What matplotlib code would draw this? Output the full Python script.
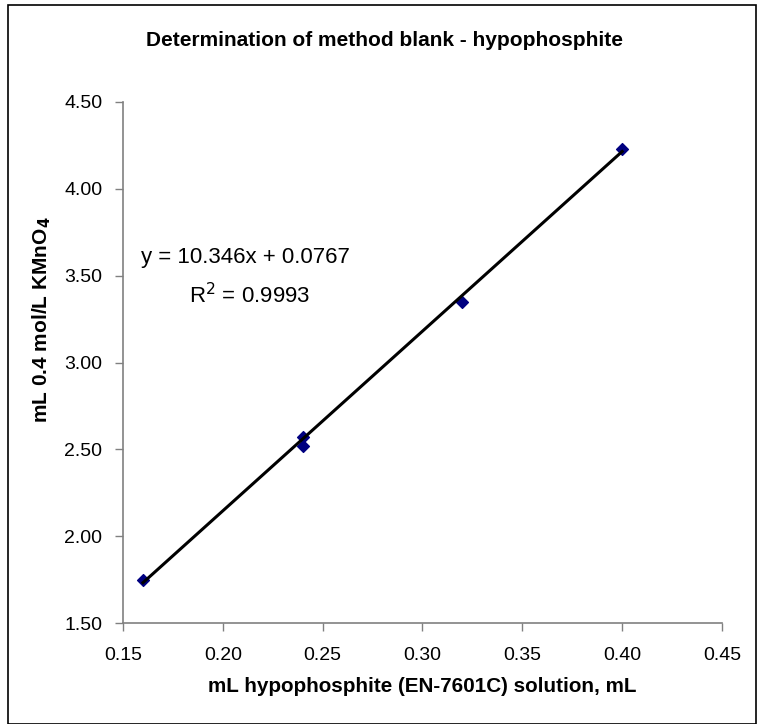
import matplotlib.pyplot as plt
import numpy as np
from matplotlib.patches import Rectangle

plt.rcParams["font.family"] = ["Liberation Sans", "DejaVu Sans"]

# measured volumes
hypo_ml = [0.16, 0.24, 0.24, 0.32, 0.40]
kmno4_ml = [1.75, 2.57, 2.52, 3.35, 4.23]

slope = 10.346
intercept = 0.0767
r_squared = 0.9993

x_ticks = [0.15, 0.20, 0.25, 0.30, 0.35, 0.40, 0.45]
y_ticks = [1.50, 2.00, 2.50, 3.00, 3.50, 4.00, 4.50]

W, H = 757, 724
fig = plt.figure(figsize=(W / 100, H / 100), dpi=100)
ax = fig.add_axes([123 / W, 1 - 623 / H, (722 - 123) / W, (623 - 102) / H])

# outer chart border
fig.patches.append(Rectangle((8 / W, 0.5 / H), (W - 9) / W, 1 - 5 / H,
                             transform=fig.transFigure, fill=False,
                             edgecolor="black", linewidth=1.2))

ax.scatter(hypo_ml, kmno4_ml, marker="D", s=36, color="#000080", zorder=3)

x_fit = np.array([min(hypo_ml), max(hypo_ml)])
ax.plot(x_fit, slope * x_fit + intercept, color="black", linewidth=2.2, zorder=4)

ax.set_xlim(0.15, 0.45)
ax.set_ylim(1.5, 4.5)
ax.set_xticks(x_ticks)
ax.set_yticks(y_ticks)
ax.set_xticklabels([f"{v:.2f}" for v in x_ticks])
ax.set_yticklabels([f"{v:.2f}" for v in y_ticks])
ax.tick_params(direction="out", length=6, width=1, color="#808080", labelsize=14)
ax.tick_params(axis="x", pad=11)
ax.tick_params(axis="y", pad=9)

for side in ["top", "right"]:
    ax.spines[side].set_visible(False)
for side in ["left", "bottom"]:
    ax.spines[side].set_color("#808080")
    ax.spines[side].set_linewidth(1.2)

fig.text(385 / W, 1 - 40 / H, "Determination of method blank - hypophosphite",
         ha="center", va="center", fontsize=15, fontweight="bold")
fig.text(422 / W, 1 - 686 / H, "mL hypophosphite (EN-7601C) solution, mL",
         ha="center", va="center", fontsize=14.9, fontweight="bold")
fig.text(42 / W, 1 - 320 / H, "mL 0.4 mol/L KMnO$_\\mathbf{4}$",
         ha="center", va="center", rotation=90, fontsize=15, fontweight="bold")

fig.text(245 / W, 1 - 258 / H, f"y = {slope}x + {intercept}",
         ha="center", va="center", fontsize=16)
fig.text(250 / W, 1 - 296 / H, f"R$^2$ = {r_squared}",
         ha="center", va="center", fontsize=16)

fig.savefig("out.png", dpi=100)
